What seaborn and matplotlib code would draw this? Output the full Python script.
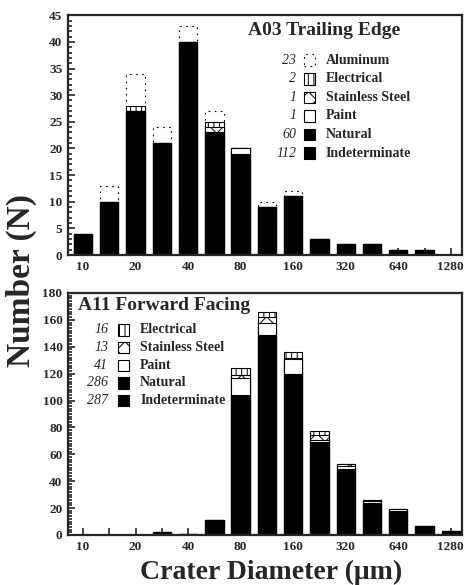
import numpy as np
import pandas as pd
import seaborn as sns
import matplotlib.pyplot as plt
import matplotlib.ticker as ticker
from matplotlib.patches import Rectangle

# crater diameter bins (um), half-octave steps; only every other one is labelled
bin_labels = ["10", "14", "20", "28", "40", "57", "80", "113", "160",
              "226", "320", "453", "640", "905", "1280"]
tick_labels = ["10", "20", "40", "80", "160", "320", "640", "1280"]

# A03 trailing edge (natural + indeterminate drawn black)
a03_dark = [4, 10, 27, 21, 40, 23, 19, 9, 11, 3, 2, 2, 1, 1, 0]
a03_paint = [0, 0, 0, 0, 0, 0, 1, 0, 0, 0, 0, 0, 0, 0, 0]
a03_steel = [0, 0, 0, 0, 0, 1, 0, 0, 0, 0, 0, 0, 0, 0, 0]
a03_elec = [0, 0, 1, 0, 0, 1, 0, 0, 0, 0, 0, 0, 0, 0, 0]
a03_alum = [0, 3, 6, 3, 3, 2, 0, 1, 1, 0, 0, 0, 0, 0, 0]
a03_names = ["Aluminum", "Electrical", "Stainless Steel", "Paint", "Natural", "Indeterminate"]
a03_counts = ["23", "2", "1", "1", "60", "112"]

# A11 forward facing
a11_dark = [0, 0, 0, 2, 1, 11, 104, 149, 120, 69, 49, 24, 18, 7, 3]
a11_paint = [0, 0, 0, 0, 0, 0, 13, 9, 11, 2, 2, 1, 1, 0, 0]
a11_steel = [0, 0, 0, 0, 0, 0, 2, 4, 1, 3, 2, 1, 0, 0, 0]
a11_elec = [0, 0, 0, 0, 0, 0, 5, 4, 4, 3, 0, 0, 0, 0, 0]
a11_names = ["Electrical", "Stainless Steel", "Paint", "Natural", "Indeterminate"]
a11_counts = ["16", "13", "41", "286", "287"]

sns.set_style("ticks")
plt.rcParams['font.family'] = ['Liberation Serif', 'DejaVu Serif']
plt.rcParams['font.weight'] = 'bold'
plt.rcParams['hatch.linewidth'] = 0.7

styles = {
    "Aluminum": dict(color="white", hatch=None, ls=(0, (1.5, 4))),
    "Electrical": dict(color="white", hatch="|||", ls="-"),
    "Stainless Steel": dict(color="white", hatch="xx", ls="-"),
    "Paint": dict(color="white", hatch=None, ls="-"),
    "Natural": dict(color="black", hatch=None, ls="-"),
    "Indeterminate": dict(color="black", hatch=None, ls="-"),
}


def stacked(ax, layers):
    # layers bottom -> top; draw cumulative heights, tallest first
    cum = np.zeros(len(bin_labels))
    tops = []
    for name, vals in layers:
        cum = cum + np.array(vals)
        tops.append((name, cum.copy()))
    for name, top in reversed(tops):
        st = styles[name]
        df = pd.DataFrame({"bin": bin_labels, "n": top})
        sns.barplot(data=df, x="bin", y="n", order=bin_labels, ax=ax,
                    color=st["color"], saturation=1, width=0.7,
                    edgecolor="black", linewidth=0.8, hatch=st["hatch"],
                    linestyle=st["ls"], errorbar=None)


def legend(ax, title, tx, ty, names, counts, cx, px, lx, y0, dy, ph):
    ax.text(tx, ty, title, transform=ax.transAxes, fontsize=14,
            fontweight="bold", va="center", ha="left")
    for i, (nm, c) in enumerate(zip(names, counts)):
        y = y0 - i * dy
        ax.text(cx, y, c, transform=ax.transAxes, fontsize=10, style="italic",
                fontweight="normal", ha="right", va="center")
        st = styles[nm]
        ax.add_patch(Rectangle((px, y - ph / 2), 0.028, ph, transform=ax.transAxes,
                               facecolor=st["color"], edgecolor="black", lw=0.8,
                               hatch=st["hatch"], linestyle=st["ls"], zorder=5))
        ax.text(lx, y, nm, transform=ax.transAxes, fontsize=10,
                fontweight="bold", ha="left", va="center")


def style_axis(ax, ymax, major, minor):
    ax.set_xlim(-0.57, 14.42)
    ax.set_ylim(0, ymax)
    ax.set_xticks(range(0, 15, 2))
    ax.set_xticklabels(tick_labels)
    ax.xaxis.set_minor_locator(ticker.FixedLocator(range(1, 15, 2)))
    ax.yaxis.set_major_locator(ticker.MultipleLocator(major))
    ax.yaxis.set_minor_locator(ticker.MultipleLocator(minor))
    ax.tick_params(which="both", direction="in", width=1.2, labelsize=9.5, pad=4)
    ax.tick_params(which="major", length=5)
    ax.tick_params(which="minor", length=3)
    ax.tick_params(axis="x", which="minor", length=5)
    for s in ax.spines.values():
        s.set_linewidth(1.6)
        s.set_visible(True)
    ax.set_xlabel("")
    ax.set_ylabel("")
    for lab in ax.get_xticklabels() + ax.get_yticklabels():
        lab.set_fontweight("bold")


fig = plt.figure(figsize=(4.66, 5.85), dpi=100)
ax1 = fig.add_axes([0.146, 0.564, 0.845, 0.41])
ax2 = fig.add_axes([0.146, 0.0855, 0.845, 0.4137])

stacked(ax1, [("Natural", a03_dark), ("Paint", a03_paint), ("Stainless Steel", a03_steel),
              ("Electrical", a03_elec), ("Aluminum", a03_alum)])
style_axis(ax1, 45, 5, 1)
legend(ax1, "A03 Trailing Edge", 0.457, 0.935, a03_names, a03_counts,
       0.58, 0.600, 0.655, 0.8125, 0.0775, 0.048)

stacked(ax2, [("Natural", a11_dark), ("Paint", a11_paint), ("Stainless Steel", a11_steel),
              ("Electrical", a11_elec)])
style_axis(ax2, 180, 20, 2)
legend(ax2, "A11 Forward Facing", 0.025, 0.95, a11_names, a11_counts,
       0.102, 0.127, 0.183, 0.847, 0.073, 0.047)

fig.text(0.045, 0.52, "Number (N)", rotation=90, fontsize=24, fontweight="bold",
         ha="center", va="center")
fig.text(0.582, 0.022, "Crater Diameter (\u03bcm)", fontsize=20, fontweight="bold",
         ha="center", va="center")

fig.savefig("out.png", dpi=100)
